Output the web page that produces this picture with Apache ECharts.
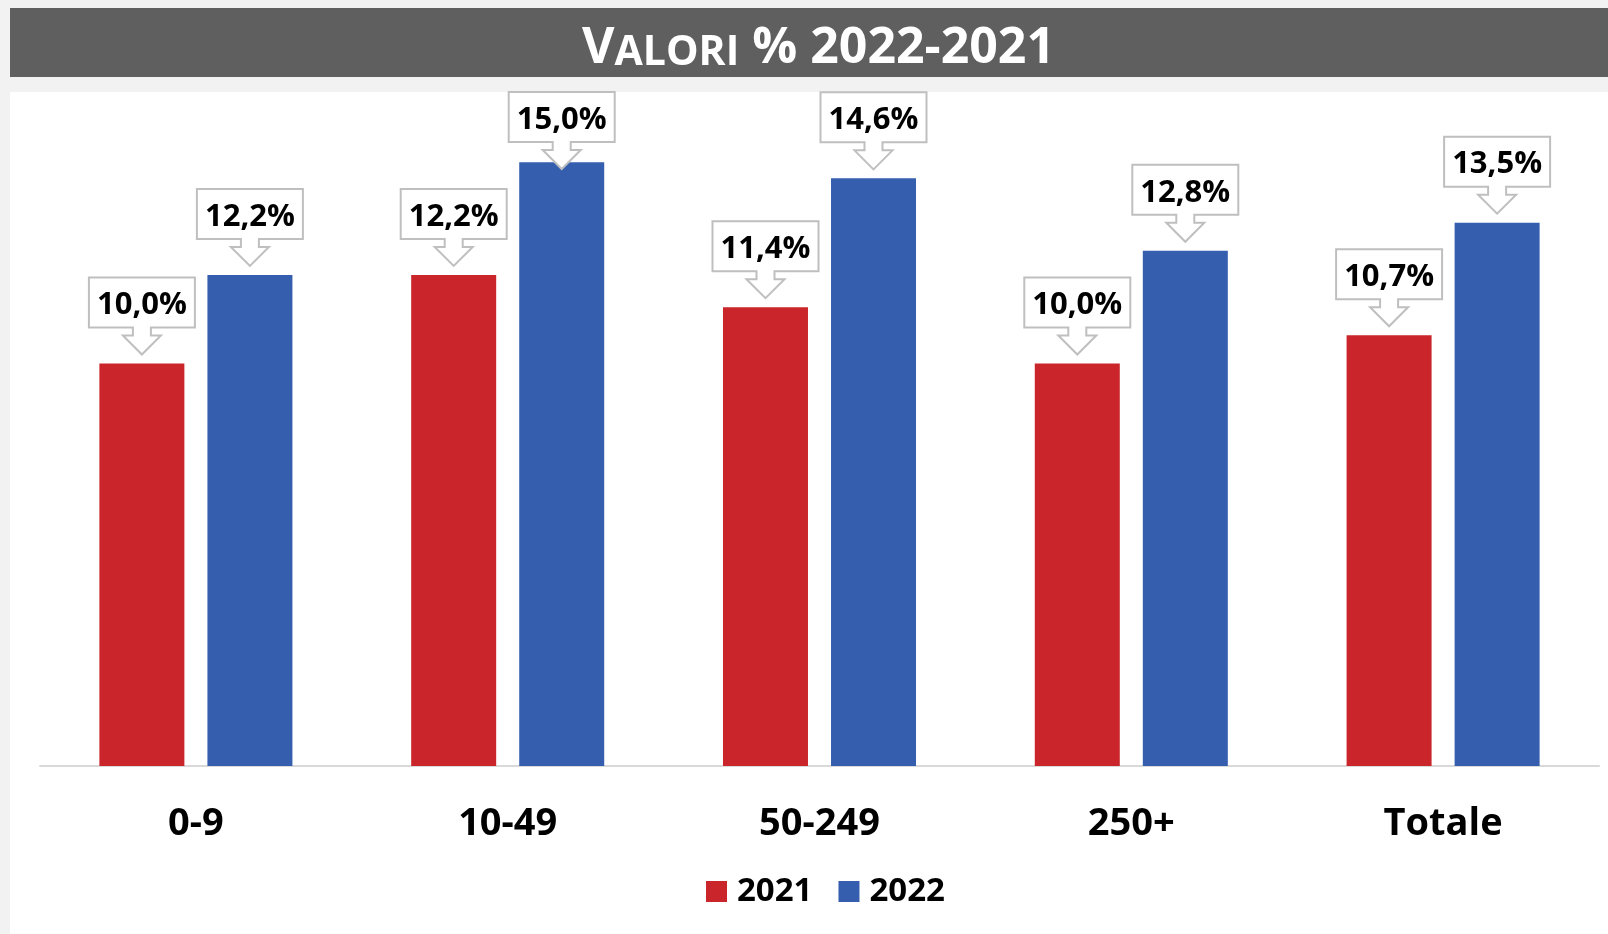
<!DOCTYPE html>
<html lang="it">
<head>
    <meta charset="UTF-8">
    <title>Valori % 2022-2021</title>
    <script src="https://cdn.jsdelivr.net/npm/echarts@6/dist/echarts.min.js"></script>
    <style>
        html, body { margin: 0; padding: 0; background: #f2f2f2; }
        #chart { width: 1608px; height: 934px; }
    </style>
</head>
<body>
    <div id="chart"></div>

    <script>
        // dati
        const categories = ['0-9', '10-49', '50-249', '250+', 'Totale'];
        const values2021 = [10.0, 12.2, 11.4, 10.0, 10.7];
        const values2022 = [12.2, 15.0, 14.6, 12.8, 13.5];
        const seriesNames = ['2021', '2022'];

        const RED = '#c9252a';
        const BLUE = '#355eae';
        const FONT = '"Open Sans", "DejaVu Sans", sans-serif';
        const BAR_W = 85;
        const BAR_GAP_PX = 23;
        const PANEL_TOP = 92;

        const fmt = v => v.toFixed(1).replace('.', ',') + '%';

        // callout con freccia sopra la barra
        function calloutRenderer(side) {
            return function (params, api) {
                const i = api.value(0);
                const v = api.value(1);
                const p = api.coord([i, v]);
                const cx = p[0] + side * (BAR_W + BAR_GAP_PX) / 2;
                let bottom = p[1] - 36;
                let top = bottom - 50;
                if (top < PANEL_TOP) { top = PANEL_TOP; bottom = top + 50; }
                const hw = 53;
                const pts = [
                    [cx - hw, top], [cx + hw, top], [cx + hw, bottom],
                    [cx + 9, bottom], [cx + 9, bottom + 8], [cx + 19, bottom + 8],
                    [cx, bottom + 27],
                    [cx - 19, bottom + 8], [cx - 9, bottom + 8], [cx - 9, bottom],
                    [cx - hw, bottom]
                ];
                return {
                    type: 'group',
                    children: [{
                        type: 'polygon',
                        shape: { points: pts },
                        style: { fill: '#fff', stroke: '#bfbfbf', lineWidth: 2 }
                    }, {
                        type: 'text',
                        x: cx,
                        y: top + 28,
                        style: {
                            text: fmt(v),
                            fill: '#000',
                            font: 'bold 31px ' + FONT,
                            align: 'center',
                            verticalAlign: 'middle'
                        }
                    }]
                };
            };
        }

        const chart = echarts.init(document.getElementById('chart'));
        const option = {
            backgroundColor: '#f2f2f2',
            animation: false,
            graphic: [
                { type: 'rect', z: -10, shape: { x: 10, y: 8, width: 1598, height: 69 }, style: { fill: '#5f5f5f' } },
                { type: 'rect', z: -10, shape: { x: 10, y: PANEL_TOP, width: 1598, height: 842 }, style: { fill: '#fff' } }
            ],
            title: {
                text: '{a|V}{b|ALORI}{a| % 2022-2021}',
                left: 582,
                top: 24,
                padding: 0,
                textStyle: {
                    rich: {
                        a: { fontFamily: FONT, fontWeight: 'bold', fontSize: 50, lineHeight: 50, color: '#fff', verticalAlign: 'bottom' },
                        b: { fontFamily: FONT, fontWeight: 'bold', fontSize: 41, lineHeight: 43, color: '#fff', verticalAlign: 'bottom' }
                    }
                }
            },
            legend: {
                data: seriesNames,
                left: 706,
                top: 875,
                padding: 0,
                icon: 'rect',
                itemWidth: 21,
                itemHeight: 21,
                itemGap: 26,
                textStyle: { fontFamily: FONT, fontWeight: 'bold', fontSize: 33, color: '#000', padding: [2, 0, 0, 5] }
            },
            grid: { left: 40, right: 9, top: 122, bottom: 168 },
            xAxis: {
                type: 'category',
                data: categories,
                axisLine: { lineStyle: { color: '#d9d9d9', width: 2 } },
                axisTick: { show: false },
                axisLabel: { fontFamily: FONT, fontWeight: 'bold', fontSize: 38, color: '#000', margin: 39 }
            },
            yAxis: {
                type: 'value',
                min: 0,
                max: 16,
                show: false,
                splitLine: { show: false }
            },
            series: [{
                name: seriesNames[0],
                type: 'bar',
                data: values2021,
                barWidth: BAR_W,
                barGap: (BAR_GAP_PX / BAR_W * 100).toFixed(1) + '%',
                itemStyle: { color: RED }
            }, {
                name: seriesNames[1],
                type: 'bar',
                data: values2022,
                barWidth: BAR_W,
                itemStyle: { color: BLUE }
            }, {
                name: 'etichette2021',
                type: 'custom',
                clip: false,
                z: 5,
                renderItem: calloutRenderer(-1),
                encode: { x: 0, y: 1 },
                data: values2021.map((v, i) => [i, v])
            }, {
                name: 'etichette2022',
                type: 'custom',
                clip: false,
                z: 5,
                renderItem: calloutRenderer(1),
                encode: { x: 0, y: 1 },
                data: values2022.map((v, i) => [i, v])
            }]
        };
        chart.setOption(option);
    </script>
</body>
</html>
